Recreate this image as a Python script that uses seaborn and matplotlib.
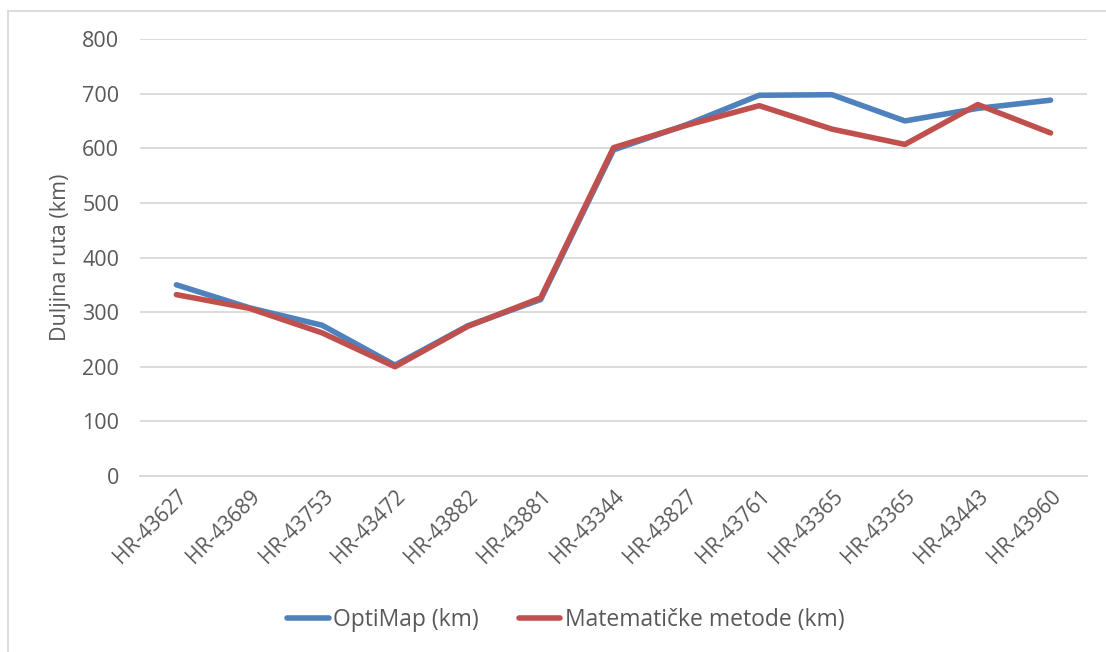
import matplotlib
matplotlib.use("Agg")
import matplotlib.pyplot as plt
import seaborn as sns
import pandas as pd
from matplotlib.lines import Line2D

routes = ["HR-43627", "HR-43689", "HR-43753", "HR-43472", "HR-43882", "HR-43881",
          "HR-43344", "HR-43827", "HR-43761", "HR-43365", "HR-43365", "HR-43443",
          "HR-43960"]
optimap_km = [350, 308, 276, 203, 275, 323, 597, 643, 697, 698, 650, 673, 688]
math_km = [332, 307, 262, 200, 274, 326, 601, 642, 678, 635, 607, 680, 628]

series_names = ["OptiMap (km)", "Matematičke metode (km)"]
colors = ["#4F81BD", "#C0504D"]
text_color = "#595959"
grid_color = "#D9D9D9"

sns.set_theme(style="white")
plt.rcParams["font.family"] = ["Open Sans", "DejaVu Sans"]

df = pd.DataFrame({
    "pos": list(range(len(routes))) * 2,
    "km": optimap_km + math_km,
    "serija": [series_names[0]] * len(routes) + [series_names[1]] * len(routes),
})

W, H = 1106, 652
fig = plt.figure(figsize=(W / 100, H / 100), dpi=100)
ax = fig.add_axes([140 / W, 1 - 476 / H, (1087 - 140) / W, (476 - 39) / H])

sns.lineplot(data=df, x="pos", y="km", hue="serija", palette=colors,
             linewidth=4, ax=ax, legend=False, sort=False,
             solid_capstyle="round", solid_joinstyle="round")

ax.set_xlim(-0.5, len(routes) - 0.5)
ax.set_ylim(0, 800)
ax.set_yticks(range(0, 801, 100))
ax.yaxis.grid(True, color=grid_color, linewidth=1.3)
ax.set_axisbelow(True)
for side in ["top", "right", "left"]:
    ax.spines[side].set_visible(False)
ax.spines["bottom"].set_color(grid_color)
ax.spines["bottom"].set_linewidth(1.3)

ax.set_xticks(range(len(routes)))
ax.set_xticklabels(routes, rotation=45, ha="right", rotation_mode="anchor",
                   fontsize=15, color=text_color)
ax.tick_params(axis="x", length=0, pad=7)
ax.tick_params(axis="y", length=0, pad=15, labelsize=15.5, labelcolor=text_color)
ax.set_xlabel("")
ax.set_ylabel("Duljina ruta (km)", fontsize=15.5, color=text_color, labelpad=8)

handles = [Line2D([0], [0], color=c, linewidth=4, solid_capstyle="round") for c in colors]
fig.legend(handles, series_names, loc="center", bbox_to_anchor=(566 / W, 1 - 620 / H),
           ncol=2, frameon=False, fontsize=16.5, labelcolor=text_color,
           handlelength=1.8, handletextpad=0.2, columnspacing=1.75)

# outer chart frame
fig.add_artist(Line2D([8 / W, 1], [1 - 11 / H, 1 - 11 / H], color=grid_color,
                      linewidth=1.3, transform=fig.transFigure))
fig.add_artist(Line2D([8 / W, 8 / W], [0, 1 - 11 / H], color=grid_color,
                      linewidth=1.3, transform=fig.transFigure))

fig.savefig("out.png", dpi=100)
